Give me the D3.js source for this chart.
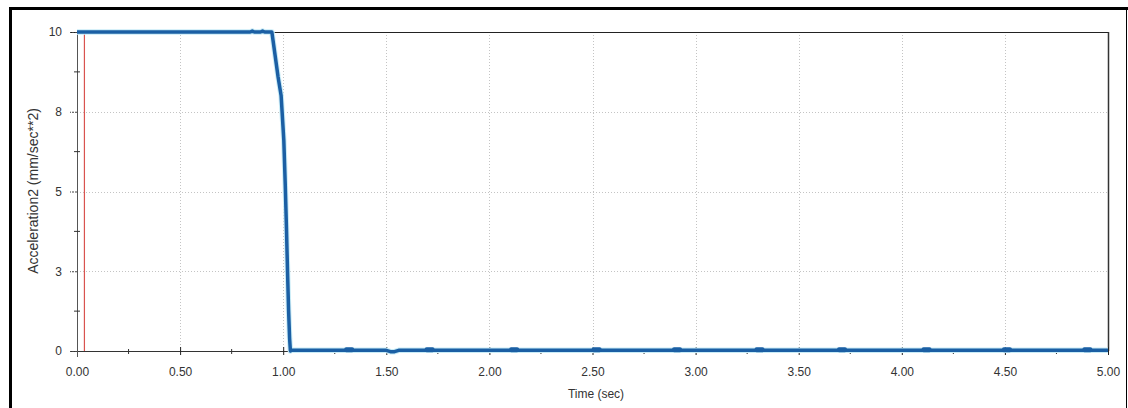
<!DOCTYPE html>
<html><head><meta charset="utf-8">
<script src="https://cdn.jsdelivr.net/npm/d3@7"></script>
<style>body{margin:0;background:#fff}svg{display:block}</style>
</head><body>
<svg id="c" width="1128" height="408"></svg>
<script>
const timeValues = [0.00, 0.84, 0.85, 0.86, 0.89, 0.90, 0.91, 0.945, 0.96, 0.975, 0.99, 1.003, 1.010, 1.016, 1.021, 1.026, 1.031, 1.035, 1.04, 1.50, 1.52, 1.54, 1.56, 5.00];
const accelValues = [10, 10, 10.03, 10, 10, 10.03, 10, 10, 9.3, 8.6, 8.0, 6.6, 5.2, 3.8, 2.5, 1.3, 0.4, 0.0, 0.02, 0.02, -0.02, -0.02, 0.02, 0.02];
const markerTimes = [1.32, 1.71, 2.12, 2.52, 2.91, 3.31, 3.71, 4.12, 4.51, 4.90];
const xTicks = [0, 0.5, 1, 1.5, 2, 2.5, 3, 3.5, 4, 4.5, 5];
const xMinorTicks = [0.25, 0.75, 1.25, 1.75, 2.25, 2.75, 3.25, 3.75, 4.25, 4.75];
const yTicks = [0, 2.5, 5, 7.5, 10];
const yTickLabels = ["0", "3", "5", "8", "10"];
const yMinorTicks = [1.25, 3.75, 6.25, 8.75];
const cursorTime = 0.036;
const xLabel = "Time (sec)";
const yLabel = "Acceleration2 (mm/sec**2)";

const svg = d3.select("#c");
const L = 77, R = 1108, T = 32, B = 351;
const x = d3.scaleLinear().domain([0, 5]).range([L, R]);
const y = d3.scaleLinear().domain([0, 10]).range([B, T]);
const font = "'Liberation Sans', Arial, sans-serif";

// outer frame
svg.append("line").attr("x1", 10.5).attr("x2", 10.5).attr("y1", 7).attr("y2", 408).attr("stroke", "#000").attr("stroke-width", 3);
svg.append("line").attr("x1", 9).attr("x2", 1128).attr("y1", 8.5).attr("y2", 8.5).attr("stroke", "#000").attr("stroke-width", 3);
svg.append("line").attr("x1", 1126.5).attr("x2", 1126.5).attr("y1", 7).attr("y2", 408).attr("stroke", "#000").attr("stroke-width", 1);

// grid
const g = svg.append("g");
g.selectAll(".gx").data(xTicks.slice(1, -1)).join("line")
  .attr("x1", d => Math.round(x(d)) + 0.5).attr("x2", d => Math.round(x(d)) + 0.5)
  .attr("y1", T).attr("y2", B).attr("stroke", "#c4c4c4").attr("stroke-dasharray", "1,2");
g.selectAll(".gy").data(yTicks.slice(1, -1)).join("line")
  .attr("y1", d => Math.round(y(d)) + 0.5).attr("y2", d => Math.round(y(d)) + 0.5)
  .attr("x1", L).attr("x2", R).attr("stroke", "#c4c4c4").attr("stroke-dasharray", "1,2");

// top and right plot border
svg.append("line").attr("x1", L - 7).attr("x2", R + 1).attr("y1", T + 0.5).attr("y2", T + 0.5).attr("stroke", "#222");
svg.append("line").attr("x1", R + 0.5).attr("x2", R + 0.5).attr("y1", T).attr("y2", B).attr("stroke", "#333").attr("stroke-width", 1.5);

// red cursor
svg.append("line").attr("x1", x(cursorTime)).attr("x2", x(cursorTime)).attr("y1", T).attr("y2", B)
  .attr("stroke", "#d9534f").attr("stroke-width", 1.2);

// axes
const xAxis = svg.append("g").attr("transform", `translate(0,${B})`)
  .call(d3.axisBottom(x).tickValues(xTicks).tickFormat(d3.format(".2f")).tickSize(4).tickPadding(12));
xAxis.select(".domain").attr("stroke", "#333").attr("d", `M${L - 7},0.5H${R}`);
xAxis.selectAll(".tick line").attr("y1", -4).attr("stroke", "#222");
xAxis.selectAll("text").attr("font-family", font).attr("font-size", 12).attr("fill", "#333");
svg.append("g").attr("transform", `translate(0,${B})`).selectAll("line").data(xMinorTicks).join("line")
  .attr("x1", d => x(d)).attr("x2", d => x(d)).attr("y1", -2).attr("y2", 3).attr("stroke", "#333");

const yAxis = svg.append("g").attr("transform", `translate(${L},0)`)
  .call(d3.axisLeft(y).tickValues(yTicks).tickFormat((d, i) => yTickLabels[i]).tickSize(7).tickPadding(8));
yAxis.select(".domain").attr("stroke", "#555").attr("d", `M0.5,${T}V${B + 6}`);
yAxis.selectAll(".tick line").attr("stroke", "#444").attr("stroke-dasharray", "2,1");
yAxis.selectAll("text").attr("font-family", font).attr("font-size", 12).attr("fill", "#333");
svg.append("g").attr("transform", `translate(${L},0)`).selectAll("line").data(yMinorTicks).join("line")
  .attr("y1", d => y(d)).attr("y2", d => y(d)).attr("x1", -3).attr("x2", 3).attr("stroke", "#333");

// data line
const line = d3.line().x((d, i) => x(timeValues[i])).y(d => y(d));
svg.append("path").datum(accelValues).attr("d", line).attr("fill", "none")
  .attr("stroke", "#c9ecf7").attr("stroke-width", 5.5).attr("stroke-linejoin", "round");
svg.append("path").datum(accelValues).attr("d", line).attr("fill", "none")
  .attr("stroke", "#1b5fa4").attr("stroke-width", 3.5).attr("stroke-linejoin", "round");
svg.append("g").selectAll("rect").data(markerTimes).join("rect")
  .attr("x", d => x(d) - 5).attr("y", y(0.02) - 3).attr("width", 10).attr("height", 5).attr("rx", 2)
  .attr("fill", "#1b5fa4");

// labels
svg.append("text").attr("x", 596).attr("y", 398).attr("text-anchor", "middle")
  .attr("font-family", font).attr("font-size", 12).attr("fill", "#333").text(xLabel);
svg.append("text").attr("transform", "translate(38,191) rotate(-90)").attr("text-anchor", "middle")
  .attr("font-family", font).attr("font-size", 14).attr("fill", "#333").text(yLabel);
</script>
</body></html>
